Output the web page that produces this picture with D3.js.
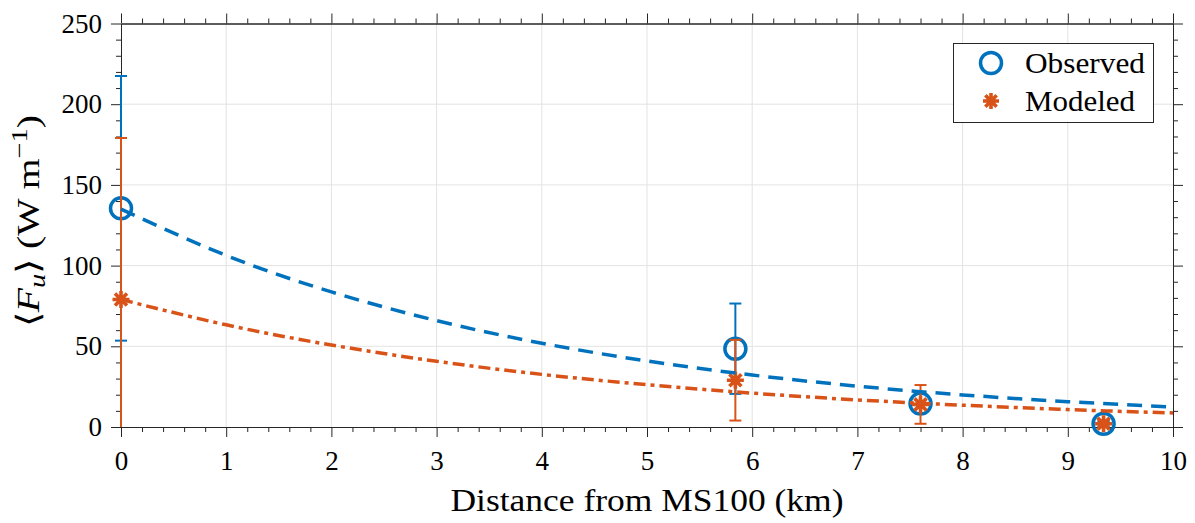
<!DOCTYPE html>
<html>
<head>
<meta charset="utf-8">
<script src="https://cdn.jsdelivr.net/npm/d3@7/dist/d3.min.js"></script>
<style>
  html, body { margin: 0; padding: 0; background: #fff; }
  svg { display: block; }
</style>
</head>
<body>
<svg id="chart" width="1195" height="523"></svg>
<script>
// Distance along transect (km) and flux values
const stationDist = [0, 5.84, 7.6, 9.34];
const observedFlux = [135.5, 48.5, 14.5, 2];
const observedErr = [82, 28, 6, 1.5];
const modeledFlux = [79, 29, 14, 2];
const modeledErr = [100, 25, 12, 2];

// Fitted decay curves sampled at each km
const fitDist = [0, 1, 2, 3, 4, 5, 6, 7, 8, 9, 10];
const observedFit = [135, 106.3, 83.7, 65.9, 51.9, 40.9, 32.2, 25.3, 19.9, 15.7, 12.4];
const modeledFit = [79, 63.3, 50.8, 40.7, 32.6, 26.2, 21.0, 16.8, 13.5, 10.8, 8.7];

const xTicks = [0, 1, 2, 3, 4, 5, 6, 7, 8, 9, 10];
const yTicks = [0, 50, 100, 150, 200, 250];
const legendLabels = ["Observed", "Modeled"];

const FONT = '"Liberation Serif"';
const blue = "#0072BD", orange = "#D95319", axisCol = "#262626";
const L = 121, R = 1173, T = 23.5, B = 427;

const svg = d3.select("#chart");
const x = d3.scaleLinear().domain([0, 10]).range([L, R]);
const y = d3.scaleLinear().domain([0, 250]).range([B, T]);

function serif(sel, size) {
  return sel.style("font-family", FONT).style("font-size", size + "px");
}

// grid
const grid = svg.append("g").attr("stroke", "#e3e3e3").attr("stroke-width", 1);
xTicks.slice(1, -1).forEach(v => grid.append("line").attr("x1", x(v)).attr("x2", x(v)).attr("y1", T).attr("y2", B));
yTicks.slice(1, -1).forEach(v => grid.append("line").attr("x1", L).attr("x2", R).attr("y1", y(v)).attr("y2", y(v)));

// axes on all four sides, ticks pointing outward
const minorX = d3.range(0, 10.001, 0.2).filter(v => Math.abs(v - Math.round(v)) > 1e-6);
const minorY = d3.range(0, 250.001, 10).filter(v => v % 50 !== 0);
function styleAxis(g) {
  g.selectAll("path.domain").attr("stroke", axisCol).attr("stroke-width", 1);
  g.selectAll(".tick line").attr("stroke", axisCol).attr("stroke-width", 1);
  serif(g.selectAll("text"), 27).attr("fill", "#000");
}
const fmt = d3.format("d");
svg.append("g").attr("transform", `translate(0,${B})`)
  .call(d3.axisBottom(x).tickValues(xTicks).tickFormat(fmt).tickSize(10).tickSizeOuter(0).tickPadding(14)).call(styleAxis);
svg.append("g").attr("transform", `translate(0,${B})`)
  .call(d3.axisBottom(x).tickValues(minorX).tickFormat("").tickSize(5).tickSizeOuter(0)).call(styleAxis);
svg.append("g").attr("transform", `translate(0,${T})`)
  .call(d3.axisTop(x).tickValues(xTicks).tickFormat("").tickSize(10).tickSizeOuter(0)).call(styleAxis);
svg.append("g").attr("transform", `translate(0,${T})`)
  .call(d3.axisTop(x).tickValues(minorX).tickFormat("").tickSize(5).tickSizeOuter(0)).call(styleAxis);

svg.append("g").attr("transform", `translate(${L},0)`)
  .call(d3.axisLeft(y).tickValues(yTicks).tickFormat(fmt).tickSize(10).tickSizeOuter(0).tickPadding(9)).call(styleAxis);
svg.append("g").attr("transform", `translate(${L},0)`)
  .call(d3.axisLeft(y).tickValues(minorY).tickFormat("").tickSize(5).tickSizeOuter(0)).call(styleAxis);
svg.append("g").attr("transform", `translate(${R},0)`)
  .call(d3.axisRight(y).tickValues(yTicks).tickFormat("").tickSize(10).tickSizeOuter(0)).call(styleAxis);
svg.append("g").attr("transform", `translate(${R},0)`)
  .call(d3.axisRight(y).tickValues(minorY).tickFormat("").tickSize(5).tickSizeOuter(0)).call(styleAxis);

// clip for lines inside the axes box (vertically)
svg.append("clipPath").attr("id", "plotClip").append("rect")
  .attr("x", L - 30).attr("y", T).attr("width", R - L + 60).attr("height", B - T);

function starPath(r) {
  const d = r * Math.SQRT1_2;
  return `M${-r},0L${r},0M0,${-r}L0,${r}M${-d},${-d}L${d},${d}M${-d},${d}L${d},${-d}`;
}

function drawSeries(vals, errs, color, marker) {
  const g = svg.append("g");
  const eg = g.append("g").attr("clip-path", "url(#plotClip)").attr("stroke", color).attr("stroke-width", 2);
  const cap = 6;
  stationDist.forEach((d, i) => {
    const cx = x(d), lo = y(vals[i] - errs[i]), hi = y(vals[i] + errs[i]);
    eg.append("line").attr("x1", cx).attr("x2", cx).attr("y1", lo).attr("y2", hi);
    eg.append("line").attr("x1", cx - cap).attr("x2", cx + cap).attr("y1", lo).attr("y2", lo);
    eg.append("line").attr("x1", cx - cap).attr("x2", cx + cap).attr("y1", hi).attr("y2", hi);
  });
  stationDist.forEach((d, i) => {
    if (marker === "circle") {
      g.append("circle").attr("cx", x(d)).attr("cy", y(vals[i])).attr("r", 10.5)
        .attr("fill", "none").attr("stroke", color).attr("stroke-width", 3.5);
    } else {
      g.append("path").attr("transform", `translate(${x(d)},${y(vals[i])})`).attr("d", starPath(8.5))
        .attr("stroke", color).attr("stroke-width", 3.6).attr("fill", "none");
    }
  });
}
drawSeries(observedFlux, observedErr, blue, "circle");
drawSeries(modeledFlux, modeledErr, orange, "star");

const line = d3.line().x((d, i) => x(fitDist[i])).y(d => y(d)).curve(d3.curveNatural);
svg.append("path").datum(observedFit).attr("d", line).attr("fill", "none")
  .attr("stroke", blue).attr("stroke-width", 3.5).attr("stroke-dasharray", "15 9").attr("clip-path", "url(#plotClip)");
svg.append("path").datum(modeledFit).attr("d", line).attr("fill", "none")
  .attr("stroke", orange).attr("stroke-width", 3.5).attr("stroke-dasharray", "12 5 4 5").attr("clip-path", "url(#plotClip)");

// legend
const lg = svg.append("g");
lg.append("rect").attr("x", 953.5).attr("y", 43.5).attr("width", 200).attr("height", 79)
  .attr("fill", "#fff").attr("stroke", axisCol).attr("stroke-width", 1);
lg.append("circle").attr("cx", 991).attr("cy", 63).attr("r", 10.5).attr("fill", "none").attr("stroke", blue).attr("stroke-width", 3.5);
lg.append("path").attr("transform", "translate(991,101)").attr("d", starPath(8)).attr("stroke", orange).attr("stroke-width", 3.6).attr("fill", "none");
const legendWidths = [120, 110];
legendLabels.forEach((t, i) => {
  serif(lg.append("text"), 29).attr("x", 1025).attr("y", [63, 101][i]).attr("dy", "0.35em")
    .attr("textLength", legendWidths[i]).attr("lengthAdjust", "spacingAndGlyphs").text(t);
});

// axis titles
serif(svg.append("text"), 32).attr("x", (L + R) / 2).attr("y", 500).attr("dy", "0.35em").attr("text-anchor", "middle")
  .attr("textLength", 393).attr("lengthAdjust", "spacingAndGlyphs")
  .text("Distance from MS100 (km)");

const yt = serif(svg.append("text"), 32).attr("transform", "translate(28,221) rotate(-90)")
  .attr("text-anchor", "middle").attr("dy", "0.35em")
  .attr("textLength", 212).attr("lengthAdjust", "spacingAndGlyphs");
yt.append("tspan").text("\u27E8");
yt.append("tspan").style("font-style", "italic").text("F");
yt.append("tspan").style("font-style", "italic").style("font-size", "23px").attr("dy", 6).text("u");
yt.append("tspan").attr("dy", -6).text("\u27E9 (W m");
yt.append("tspan").style("font-size", "23px").attr("dy", -12).text("\u22121");
yt.append("tspan").attr("dy", 12).text(")");
</script>
</body>
</html>
